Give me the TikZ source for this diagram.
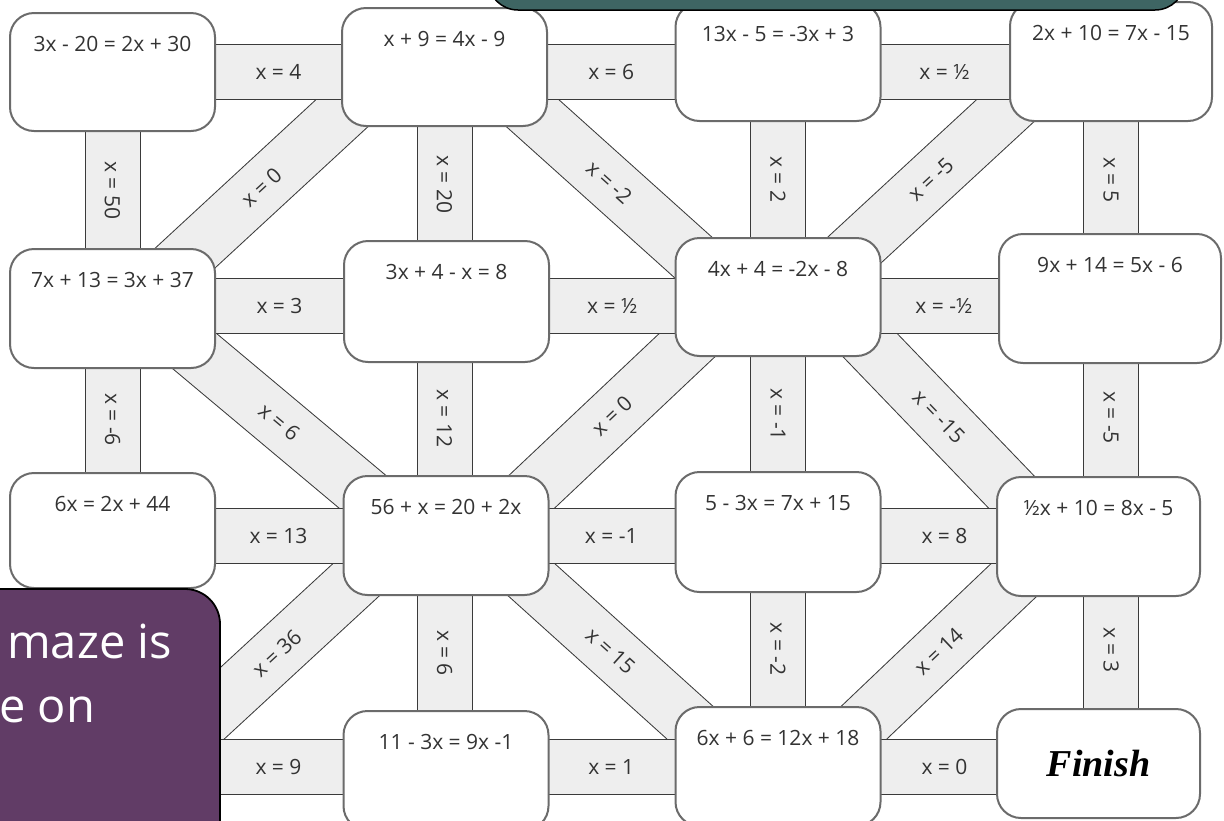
\documentclass[tikz,border=0pt]{standalone}
\usepackage{fontspec}
\setmainfont{Open Sans}
\newfontfamily\finishfont{Liberation Serif}
\usepackage{xcolor}
\usetikzlibrary{backgrounds}
\definecolor{bandfill}{HTML}{EEEEEE}
\definecolor{bandline}{HTML}{3A3A3A}
\definecolor{boxline}{HTML}{6B6B6B}
\definecolor{txtgray}{HTML}{333333}
\definecolor{notepurple}{HTML}{613C66}
\definecolor{bannerteal}{HTML}{3E6563}
\newcommand{\eqfont}{\fontsize{21}{25}\selectfont}

\begin{document}
\begin{tikzpicture}[x=1pt, y=-1pt,
    box/.style={rectangle, draw=boxline, line width=2pt, fill=white, rounded corners=24pt,
                minimum width=205pt, inner sep=0pt, text height=38pt, text depth=80pt,
                font=\eqfont, text=txtgray},
    band/.style={draw=bandline, line width=1pt, double=bandfill, double distance=54pt},
    diag/.style={band, shorten <=-45pt, shorten >=-45pt},
    lbl/.style={font=\eqfont, text=txtgray, inner sep=0pt},
    note/.style={rectangle, draw=black, line width=1.8pt, fill=notepurple, rounded corners=35pt,
                 minimum width=520pt, minimum height=411pt},
    notetext/.style={font=\fontsize{47}{64}\selectfont, text=white, inner sep=0pt},
    banner/.style={rectangle, draw=black, line width=1.5pt, fill=bannerteal, rounded corners=30pt,
                   minimum width=697pt, minimum height=110pt}
]
\useasboundingbox (0,0) rectangle (1224,820);
\clip (0,0) rectangle (1224,820);

\coordinate (r2) at (0,306);
\coordinate (M) at (112.5,767);

\node[box] (A) at (112.5,72)   {3x - 20 = 2x + 30};
\node[box] (B) at (444.5,67)   {x + 9 = 4x - 9};
\node[box] (C) at (778,62)     {13x - 5 = -3x + 3};
\node[box, minimum width=202pt, text depth=81pt] (D) at (1111,61.5) {2x + 10 = 7x - 15};
\node[box, text depth=81pt] (E) at (112.5,308.5) {7x + 13 = 3x + 37};
\node[box, text depth=83pt] (F) at (446.5,301.5) {3x + 4 - x = 8};
\node[box] (G) at (778,297)    {4x + 4 = -2x - 8};
\node[box, minimum width=222pt, text depth=91pt] (H) at (1110,298.5) {9x + 14 = 5x - 6};
\node[box, text depth=77pt] (I) at (112.5,530.5) {6x = 2x + 44};
\node[box, text depth=81pt] (J) at (446,535.5) {56 + x = 20 + 2x};
\node[box, text depth=82pt] (K) at (778,532)   {5 - 3x = 7x + 15};
\node[box, minimum width=203pt, text depth=81pt] (L) at (1098.5,536.5) {½x + 10 = 8x - 5};
\node[box, text depth=81pt] (N) at (446,770.5) {11 - 3x = 9x -1};
\node[box, text depth=81pt] (O) at (778,766.5) {6x + 6 = 12x + 18};
\node[box, minimum width=203pt, text height=67pt, text depth=42pt, font=\finishfont\bfseries\itshape\fontsize{38}{40}\selectfont, text=black]
    (P) at (1098.5,763.5) {Finish};

\begin{pgfonlayer}{background}
\draw[diag] ([xshift=-14pt]B.south west) -- ([xshift=-20pt]E.north east) node[lbl, midway, sloped] {x = 0};
\draw[diag] (B.south east) -- ([xshift=-4pt]G.north west) node[lbl, midway, sloped] {x = -2};
\draw[diag] ([xshift=-16pt]D.south west) -- ([xshift=-13pt]G.north east) node[lbl, midway, sloped] {x = -5};
\draw[diag] (E.south east) -- (J.north west) node[lbl, midway, sloped] {x = 6};
\draw[diag] (G.south west) -- (J.north east) node[lbl, midway, sloped] {x = 0};
\draw[diag] (G.south east) -- (L.north west) node[lbl, midway, sloped] {x = -15};
\draw[diag] ([xshift=-4pt]J.south west) -- ([xshift=102.5pt,yshift=57pt]M) node[lbl, midway, sloped] {x = 36};
\draw[diag] (J.south east) -- ([xshift=-3pt]O.north west) node[lbl, midway, sloped] {x = 15};
\draw[diag] (L.south west) -- (O.north east) node[lbl, midway, sloped] {x = 14};

\draw[band] (A.center) -- (A |- E) node[lbl, midway, rotate=-90] {x = 50};
\draw[band] (A |- E) -- (A |- I) node[lbl, midway, rotate=-90] {x = -6};
\draw[band] (B.center) -- (B |- F) node[lbl, midway, rotate=-90] {x = 20};
\draw[band] (B |- F) -- (B |- J) node[lbl, midway, rotate=-90] {x = 12};
\draw[band] (B |- J) -- (B |- N) node[lbl, midway, rotate=-90] {x = 6};
\draw[band] (C.center) -- (C |- G) node[lbl, midway, rotate=-90] {x = 2};
\draw[band] (C |- G) -- (C |- K) node[lbl, midway, rotate=-90] {x = -1};
\draw[band] (C |- K) -- (C |- O) node[lbl, midway, rotate=-90] {x = -2};
\draw[band] (D.center) -- (D |- H) node[lbl, midway, rotate=-90] {x = 5};
\draw[band] (D |- H) -- (D |- L) node[lbl, midway, rotate=-90] {x = -5};
\draw[band] (D |- L) -- (D |- P) node[lbl, midway, rotate=-90] {x = 3};

\draw[band] (A.center) -- (A -| B) node[lbl, midway] {x = 4};
\draw[band] (A -| B) -- (A -| C) node[lbl, midway] {x = 6};
\draw[band] (A -| C) -- (A -| D) node[lbl, midway] {x = ½};
\draw[band] (E |- r2) -- (F |- r2) node[lbl, midway] {x = 3};
\draw[band] (F |- r2) -- (G |- r2) node[lbl, midway] {x = ½};
\draw[band] (G |- r2) -- (H |- r2) node[lbl, midway] {x = -½};
\draw[band] (J -| A) -- (J -| B) node[lbl, midway] {x = 13};
\draw[band] (J -| B) -- (J -| C) node[lbl, midway] {x = -1};
\draw[band] (J -| C) -- (J -| D) node[lbl, midway] {x = 8};
\draw[band] (M) -- (M -| B) node[lbl, midway] {x = 9};
\draw[band] (M -| B) -- (M -| C) node[lbl, midway] {x = 1};
\draw[band] (M -| C) -- (M -| D) node[lbl, midway] {x = 0};
\end{pgfonlayer}

\node[note] (note) at (-40,794.5) {};
\node[notetext, anchor=base west] (notetop) at (7,658) {maze is};
\node[notetext, anchor=base west] (notebot) at (-1,722) {e on};
\node[banner] (banner) at (836.5,-45) {};
\end{tikzpicture}
\end{document}
